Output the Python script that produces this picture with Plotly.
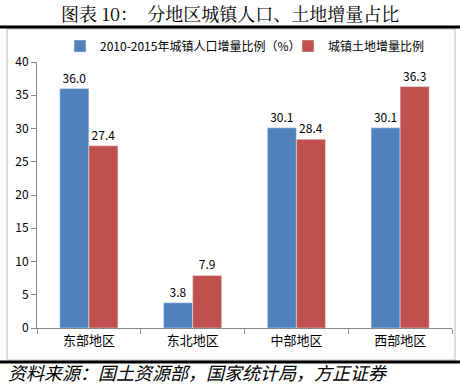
import plotly.graph_objects as go

categories = ["东部地区", "东北地区", "中部地区", "西部地区"]
pop_share = [36.0, 3.8, 30.1, 30.1]
land_share = [27.4, 7.9, 28.4, 36.3]
series_names = ["2010-2015年城镇人口增量比例（%）", "城镇土地增量比例"]
y_ticks = [0, 5, 10, 15, 20, 25, 30, 35, 40]

BLUE = "#4F81BD"
RED = "#C0504D"
FONT = "Noto Sans CJK SC"

PL, PR, PT, PB = 37, 452, 62, 328  # plot area in px
PW, PH = PR - PL, PB - PT

def px(x):
    return (x - PL) / PW

def py(y):
    return (PB - y) / PH

fig = go.Figure()
fig.add_trace(go.Bar(x=categories, y=pop_share, name=series_names[0], marker_color=BLUE,
                     text=[f"{v:.1f}" for v in pop_share], textposition="outside",
                     textfont=dict(size=12, color="#000"), cliponaxis=False,
                     legend="legend"))
fig.add_trace(go.Bar(x=categories, y=land_share, name=series_names[1], marker_color=RED,
                     text=[f"{v:.1f}" for v in land_share], textposition="outside",
                     textfont=dict(size=12, color="#000"), cliponaxis=False,
                     legend="legend2"))

leg_common = dict(orientation="h", xanchor="left", yanchor="middle",
                  font=dict(size=12), bgcolor="rgba(0,0,0,0)", itemwidth=30)

fig.update_layout(
    width=460, height=386,
    margin=dict(l=PL, r=460 - PR, t=PT, b=386 - PB, autoexpand=False),
    paper_bgcolor="white", plot_bgcolor="white",
    font=dict(family=FONT, size=12, color="#000"),
    barmode="group", bargap=0.44, bargroupgap=0,
    showlegend=True,
    legend=dict(x=px(60), y=py(46), **leg_common),
    legend2=dict(x=px(288), y=py(46), **leg_common),
    xaxis=dict(showline=True, linecolor="#888", ticks="outside", tickcolor="#888",
               ticklen=5, showgrid=False, tickson="boundaries",
               tickfont=dict(size=13)),
    yaxis=dict(range=[0, 40], tickvals=y_ticks, showline=True, linecolor="#888",
               ticks="outside", tickcolor="#888", ticklen=5, showgrid=False,
               tickfont=dict(size=12), zeroline=False),
)

# chart frame
fig.add_shape(type="rect", xref="paper", yref="paper",
              x0=px(7), x1=px(455), y0=py(360), y1=py(29),
              line=dict(color="#BBBBBB", width=1), layer="below")
# heavy rules
fig.add_shape(type="line", xref="paper", yref="paper",
              x0=px(0), x1=px(460), y0=py(27), y1=py(27),
              line=dict(color="black", width=3))
fig.add_shape(type="line", xref="paper", yref="paper",
              x0=px(0), x1=px(460), y0=py(362), y1=py(362),
              line=dict(color="black", width=3))

fig.add_annotation(text="图表 10：  分地区城镇人口、土地增量占比", xref="paper", yref="paper",
                   x=px(230), y=py(13), xanchor="center", yanchor="middle", showarrow=False,
                   font=dict(family="Noto Serif CJK SC, " + FONT, size=18, color="#000"))
fig.add_annotation(text="<i>资料来源：国土资源部，国家统计局，方正证券</i>", xref="paper", yref="paper",
                   x=px(6), xanchor="left", y=py(372), yanchor="middle", showarrow=False,
                   font=dict(family=FONT, size=18, color="#000"))

fig.write_html("out.html", config={"displayModeBar": False},
               post_script="document.body.style.margin='0';")
